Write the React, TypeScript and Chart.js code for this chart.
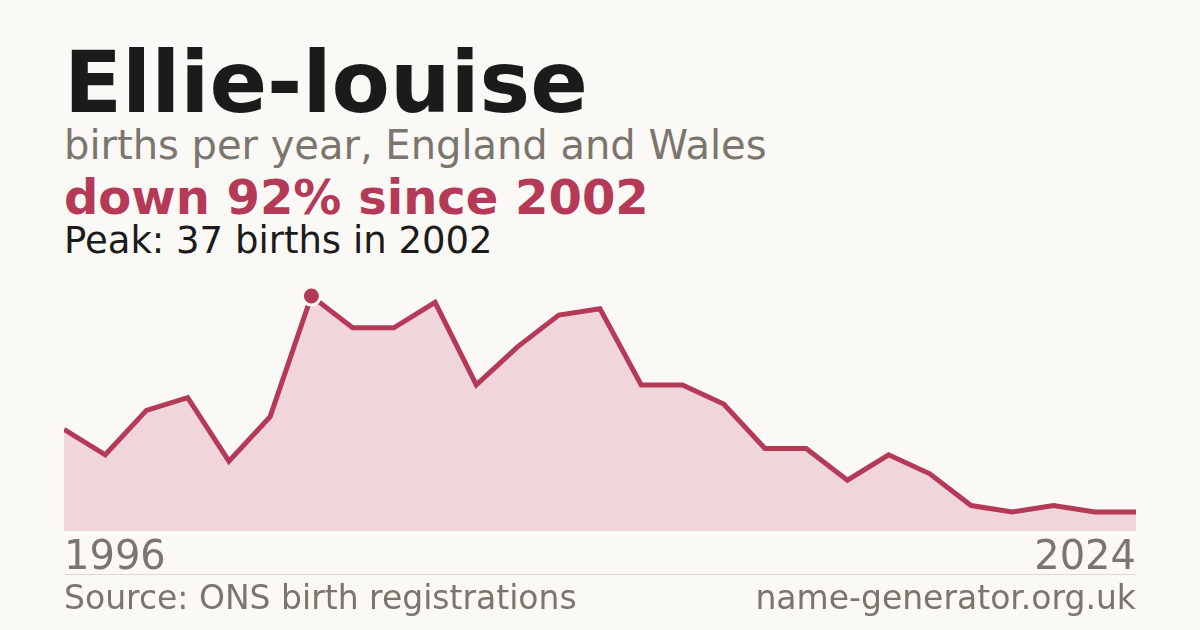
import { useEffect, useRef } from "react";
import Chart from "chart.js/auto";

// two years are absent from the series (fewer than 3 births are not published)
const years = [
  1996, 1997, 1998, 1999, 2000, 2001, 2002, 2003, 2004, 2005, 2006, 2007, 2008, 2009,
  2010, 2011, 2012, 2013, 2014, 2015, 2016, 2017, 2018, 2019, 2022, 2023, 2024,
];
const births = [16, 12, 19, 21, 11, 18, 37, 32, 32, 36, 23, 29, 34, 35, 23, 23, 20, 13, 13, 8, 12, 9, 4, 3, 4, 3, 3];
const peakYear = 2002;

const BG = "#faf9f5";
const RED = "#b43a58";
const GREY = "#7a756d";
const FONT = "'DejaVu Sans', sans-serif";

const App = () => {
  const chartRef = useRef<HTMLCanvasElement | null>(null);

  useEffect(() => {
    if (!chartRef.current) return;
    const peakIdx = years.indexOf(peakYear);
    const chart = new Chart(chartRef.current, {
      type: "line",
      data: {
        labels: years.map(String),
        datasets: [
          {
            data: births,
            borderColor: RED,
            borderWidth: 5,
            backgroundColor: "#f0d6db",
            fill: "origin",
            tension: 0,
            borderJoinStyle: "miter",
            clip: { left: 0, right: 0, top: 30, bottom: 0 },
            pointRadius: years.map((_, i) => (i === peakIdx ? 9 : 0)),
            pointBackgroundColor: RED,
            pointBorderColor: BG,
            pointBorderWidth: 3,
          },
        ],
      },
      options: {
        responsive: false,
        animation: false,
        layout: { padding: { top: 12, left: 0, right: 0, bottom: 0 } },
        plugins: { legend: { display: false }, tooltip: { enabled: false } },
        scales: {
          x: {
            offset: false,
            grid: { display: false, drawTicks: false },
            border: { display: false },
            ticks: {
              autoSkip: false,
              maxRotation: 0,
              align: "inner",
              padding: 4,
              color: GREY,
              font: { family: FONT, size: 40 },
              callback: (_v: string | number, i: number) =>
                i === 0 || i === years.length - 1 ? String(years[i]) : "",
            },
          },
          y: {
            display: false,
            min: 0,
            max: 37,
          },
        },
      },
    });
    return () => {
      chart.destroy();
    };
  }, []);

  const text = (top: number, size: number, color: string, bold = false) => ({
    position: "absolute" as const,
    left: 64,
    top,
    fontSize: size,
    lineHeight: `${size}px`,
    color,
    fontWeight: bold ? 700 : 400,
    whiteSpace: "nowrap" as const,
  });

  return (
    <div
      style={{
        position: "fixed",
        left: 0,
        top: 0,
        width: 1200,
        height: 630,
        background: BG,
        fontFamily: FONT,
        overflow: "hidden",
      }}
    >
      <div style={text(40, 85, "#1b1b1b", true)}>Ellie-louise</div>
      <div style={text(125, 40, GREY)}>births per year, England and Wales</div>
      <div style={text(173, 48, RED, true)}>down 92% since 2002</div>
      <div style={text(222, 37, "#1b1b1b")}>Peak: 37 births in 2002</div>
      <canvas
        ref={chartRef}
        width={1080}
        height={303}
        style={{ position: "absolute", left: 60, top: 284, width: 1080, height: 303 }}
      />
      <div
        style={{ position: "absolute", left: 64, top: 574, width: 1072, height: 1, background: "#dcd9d2" }}
      />
      <div style={text(581, 33, GREY)}>Source: ONS birth registrations</div>
      <div style={{ ...text(581, 33, GREY), left: "auto", right: 64 }}>name-generator.org.uk</div>
    </div>
  );
};

export default App;
